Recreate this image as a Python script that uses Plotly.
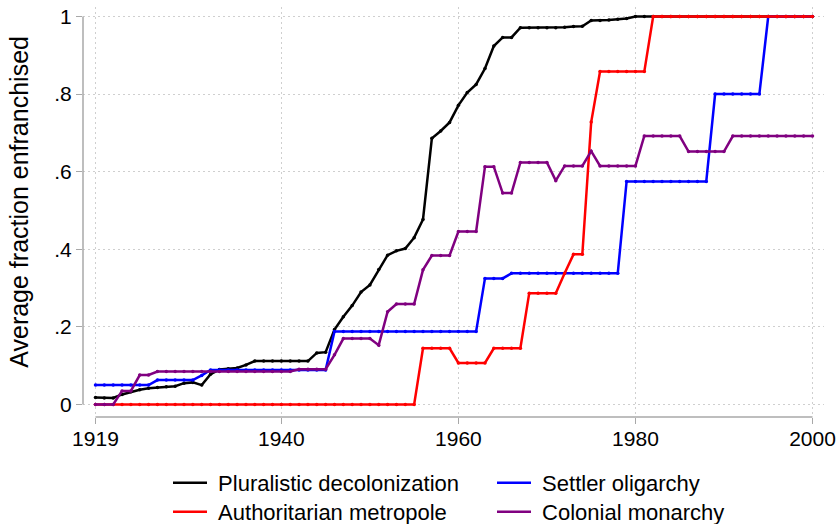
import plotly.graph_objects as go

years = [1919, 1920, 1921, 1922, 1923, 1924, 1925, 1926, 1927, 1928,
         1929, 1930, 1931, 1932, 1933, 1934, 1935, 1936, 1937, 1938,
         1939, 1940, 1941, 1942, 1943, 1944, 1945, 1946, 1947, 1948,
         1949, 1950, 1951, 1952, 1953, 1954, 1955, 1956, 1957, 1958,
         1959, 1960, 1961, 1962, 1963, 1964, 1965, 1966, 1967, 1968,
         1969, 1970, 1971, 1972, 1973, 1974, 1975, 1976, 1977, 1978,
         1979, 1980, 1981, 1982, 1983, 1984, 1985, 1986, 1987, 1988,
         1989, 1990, 1991, 1992, 1993, 1994, 1995, 1996, 1997, 1998,
         1999, 2000]

pluralistic = [0.018, 0.017, 0.017, 0.026, 0.033, 0.038, 0.042, 0.044, 0.046, 0.047,
               0.055, 0.057, 0.050, 0.078, 0.090, 0.092, 0.094, 0.102, 0.112, 0.112,
               0.112, 0.112, 0.112, 0.112, 0.112, 0.133, 0.135, 0.193, 0.226, 0.255,
               0.290, 0.308, 0.348, 0.385, 0.396, 0.402, 0.430, 0.477, 0.686, 0.705,
               0.727, 0.771, 0.804, 0.825, 0.866, 0.924, 0.946, 0.946, 0.971, 0.971,
               0.971, 0.971, 0.971, 0.972, 0.974, 0.975, 0.990, 0.990, 0.991, 0.993,
               0.995, 1.0, 1.0, 1.0, 1.0, 1.0, 1.0, 1.0, 1.0, 1.0,
               1.0, 1.0, 1.0, 1.0, 1.0, 1.0, 1.0, 1.0, 1.0, 1.0,
               1.0, 1.0]

settler = [0.050, 0.050, 0.050, 0.050, 0.050, 0.050, 0.050, 0.063, 0.063, 0.063,
           0.063, 0.063, 0.075, 0.089, 0.089, 0.089, 0.089, 0.089, 0.089, 0.089,
           0.089, 0.089, 0.089, 0.089, 0.089, 0.089, 0.089, 0.188, 0.188, 0.188,
           0.188, 0.188, 0.188, 0.188, 0.188, 0.188, 0.188, 0.188, 0.188, 0.188,
           0.188, 0.188, 0.188, 0.188, 0.325, 0.325, 0.325, 0.338, 0.338, 0.338,
           0.338, 0.338, 0.338, 0.338, 0.338, 0.338, 0.338, 0.338, 0.338, 0.338,
           0.575, 0.575, 0.575, 0.575, 0.575, 0.575, 0.575, 0.575, 0.575, 0.575,
           0.800, 0.800, 0.800, 0.800, 0.800, 0.800, 1.0, 1.0, 1.0, 1.0,
           1.0, 1.0]

authoritarian = [0, 0, 0, 0, 0, 0, 0, 0, 0, 0,
                 0, 0, 0, 0, 0, 0, 0, 0, 0, 0,
                 0, 0, 0, 0, 0, 0, 0, 0, 0, 0,
                 0, 0, 0, 0, 0, 0, 0, 0.145, 0.145, 0.145,
                 0.145, 0.107, 0.107, 0.107, 0.107, 0.145, 0.145, 0.145, 0.145, 0.287,
                 0.287, 0.287, 0.287, 0.338, 0.387, 0.387, 0.728, 0.858, 0.858, 0.858,
                 0.858, 0.858, 0.858, 1.0, 1.0, 1.0, 1.0, 1.0, 1.0, 1.0,
                 1.0, 1.0, 1.0, 1.0, 1.0, 1.0, 1.0, 1.0, 1.0, 1.0,
                 1.0, 1.0]

monarchy = [0, 0, 0, 0.035, 0.035, 0.076, 0.076, 0.085, 0.085, 0.085,
            0.085, 0.085, 0.085, 0.085, 0.085, 0.085, 0.085, 0.085, 0.085, 0.085,
            0.085, 0.085, 0.085, 0.091, 0.091, 0.091, 0.091, 0.128, 0.170, 0.170,
            0.170, 0.170, 0.153, 0.239, 0.259, 0.259, 0.259, 0.347, 0.384, 0.384,
            0.384, 0.446, 0.446, 0.446, 0.613, 0.613, 0.545, 0.545, 0.624, 0.624,
            0.624, 0.624, 0.577, 0.615, 0.615, 0.615, 0.653, 0.615, 0.615, 0.615,
            0.615, 0.615, 0.692, 0.692, 0.692, 0.692, 0.692, 0.652, 0.652, 0.652,
            0.652, 0.652, 0.692, 0.692, 0.692, 0.692, 0.692, 0.692, 0.692, 0.692,
            0.692, 0.692]

x_ticks = [1919, 1940, 1960, 1980, 2000]
x_ticklabels = ["1919", "1940", "1960", "1980", "2000"]
y_ticks = [0, 0.2, 0.4, 0.6, 0.8, 1]
y_ticklabels = ["0", ".2", ".4", ".6", ".8", "1"]

# (label, values, colour, legend row)
series = [
    ("Pluralistic decolonization", pluralistic, "#000000", "legend"),
    ("Settler oligarchy", settler, "#0000FF", "legend"),
    ("Authoritarian metropole", authoritarian, "#FF0000", "legend2"),
    ("Colonial monarchy", monarchy, "#800080", "legend2"),
]

FONT = "Liberation Sans, Arial, Helvetica, sans-serif"
AXIS_COLOR = "#a8a8a8"
GRID_COLOR = "#cfcfcf"
NBSP = "\u00a0"

fig = go.Figure()
for name, vals, color, leg in series:
    fig.add_trace(go.Scatter(
        x=years, y=vals, name=NBSP + name, mode="lines",
        line=dict(color=color, width=2.5), legendgroup=name, legend=leg,
    ))
    fig.add_trace(go.Scatter(
        x=years, y=vals, name=name, mode="markers", showlegend=False,
        marker=dict(color=color, size=3.5, symbol="circle"), legendgroup=name,
        legend=leg,
    ))


def legend_row(top_px):
    return dict(
        orientation="h", xref="container", yref="container",
        x=168 / 838, y=1 - top_px / 524, xanchor="left", yanchor="top",
        entrywidth=275, entrywidthmode="pixels",
        font=dict(family=FONT, size=22, color="black"),
        traceorder="normal", itemwidth=34,
        bgcolor="rgba(0,0,0,0)",
    )


fig.update_layout(
    width=838, height=524,
    margin=dict(l=83, r=14, t=7, b=107, autoexpand=False),
    plot_bgcolor="white", paper_bgcolor="white",
    font=dict(family=FONT, size=21, color="black"),
    showlegend=True,
    legend=legend_row(462),
    legend2=legend_row(491),
    xaxis=dict(
        range=[1917.59, 2001.3], tickmode="array", tickvals=x_ticks, ticktext=x_ticklabels,
        ticks="outside", ticklen=6, tickcolor=AXIS_COLOR, tickwidth=1.2,
        showgrid=True, gridcolor=GRID_COLOR, griddash="1.5px,3.5px", gridwidth=1.2,
        zeroline=False, showline=False, automargin=False, ticklabelstandoff=-3,
        tickfont=dict(family=FONT, size=21, color="black"),
    ),
    yaxis=dict(
        range=[-0.0322, 1.0245], tickmode="array", tickvals=y_ticks, ticktext=y_ticklabels,
        ticks="outside", ticklen=6, tickcolor=AXIS_COLOR, tickwidth=1.2,
        showgrid=True, gridcolor=GRID_COLOR, griddash="1.5px,3.5px", gridwidth=1.2,
        zeroline=False, showline=False, automargin=False,
        tickfont=dict(family=FONT, size=21, color="black"),
    ),
    shapes=[
        dict(type="line", xref="paper", yref="y", x0=0, x1=0, y0=0, y1=1,
             line=dict(color=AXIS_COLOR, width=1.5), layer="above"),
        dict(type="line", xref="x", yref="paper", x0=1919, x1=2000, y0=0, y1=0,
             line=dict(color=AXIS_COLOR, width=1.5), layer="above"),
    ],
    annotations=[
        dict(text="Average fraction enfranchised", xref="paper", yref="paper",
             x=(19 - 83) / 741, y=0.525, xanchor="center", yanchor="middle", textangle=-90,
             showarrow=False, font=dict(family=FONT, size=25, color="black")),
    ],
)

fig.write_html("out.html", config={"displayModeBar": False},
               post_script="document.body.style.margin='0px';")
